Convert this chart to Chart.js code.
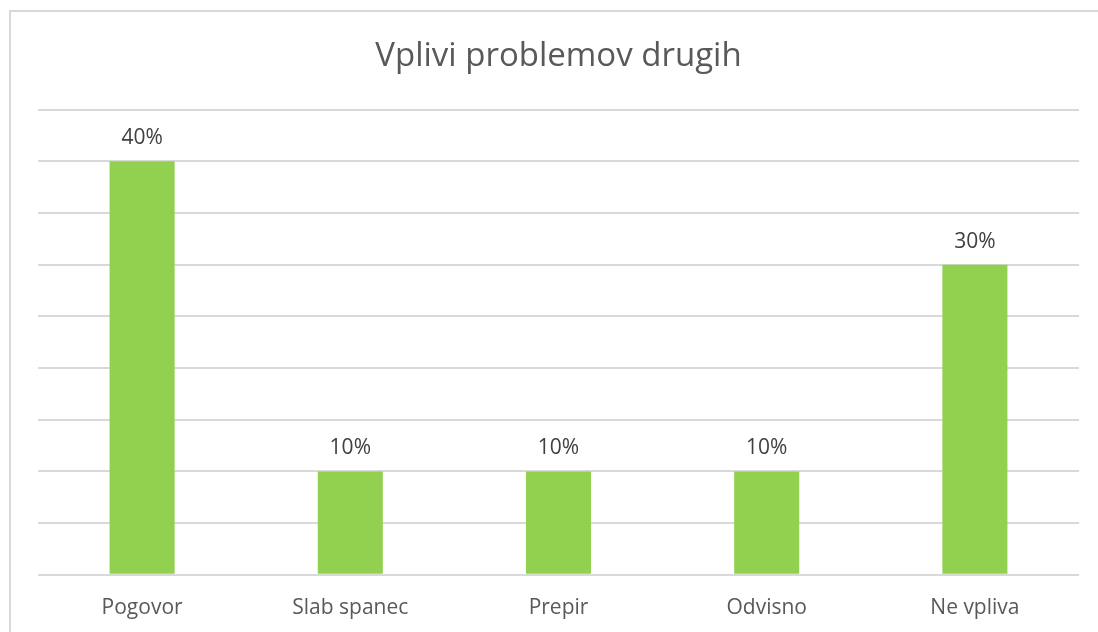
<!DOCTYPE html>
<html>
<head>
<meta charset="utf-8">
<script src="https://cdn.jsdelivr.net/npm/chart.js@4.4.1/dist/chart.umd.min.js"></script>
<style>
  html, body { margin: 0; padding: 0; background: #fff; overflow: hidden; }
  #okvir { position: absolute; left: 9px; top: 10px; width: 1200px; height: 700px; border: 2px solid #d9d9d9; }
  #wrap { position: absolute; left: 0; top: 0; width: 1098px; height: 642px; }
</style>
</head>
<body>
<div id="okvir"></div>
<div id="wrap"><canvas id="graf"></canvas></div>
<script>
// podatki
const kategorije = ['Pogovor', 'Slab spanec', 'Prepir', 'Odvisno', 'Ne vpliva'];
const vrednosti = [0.40, 0.10, 0.10, 0.10, 0.30];
const naslov = 'Vplivi problemov drugih';

// napisi nad stolpci
const oznakePlugin = {
    id: 'oznake',
    afterDatasetsDraw(chart) {
        const ctx = chart.ctx;
        const meta = chart.getDatasetMeta(0);
        ctx.save();
        ctx.font = '21px "Open Sans"';
        ctx.fillStyle = '#404040';
        ctx.textAlign = 'center';
        ctx.textBaseline = 'middle';
        meta.data.forEach((bar, i) => {
            const v = chart.data.datasets[0].data[i];
            ctx.fillText(Math.round(v * 100) + '%', bar.x, bar.y - 23);
        });
        ctx.restore();
    }
};

document.addEventListener('DOMContentLoaded', function () {
    const ctx = document.getElementById('graf').getContext('2d');
    new Chart(ctx, {
        type: 'bar',
        data: {
            labels: kategorije,
            datasets: [{
                data: vrednosti,
                backgroundColor: '#92d050',
                barPercentage: 0.625,
                categoryPercentage: 0.5
            }]
        },
        options: {
            responsive: true,
            maintainAspectRatio: false,
            animation: false,
            layout: { padding: { left: 38, right: 19, top: 0, bottom: 0 } },
            plugins: {
                legend: { display: false },
                tooltip: { enabled: false },
                title: {
                    display: true,
                    text: naslov,
                    color: '#595959',
                    font: { family: 'Open Sans', size: 33, weight: 'normal' },
                    padding: { top: 37, bottom: 33 }
                }
            },
            scales: {
                x: {
                    grid: { display: false, drawTicks: false },
                    border: { display: false },
                    ticks: { color: '#595959', font: { family: 'Open Sans', size: 21 }, padding: 21 }
                },
                y: {
                    min: 0,
                    max: 0.45,
                    ticks: { display: false, stepSize: 0.05 },
                    grid: { color: '#d9d9d9', lineWidth: 2, drawTicks: false },
                    border: { display: false }
                }
            }
        },
        plugins: [oznakePlugin]
    });
});
</script>
</body>
</html>
